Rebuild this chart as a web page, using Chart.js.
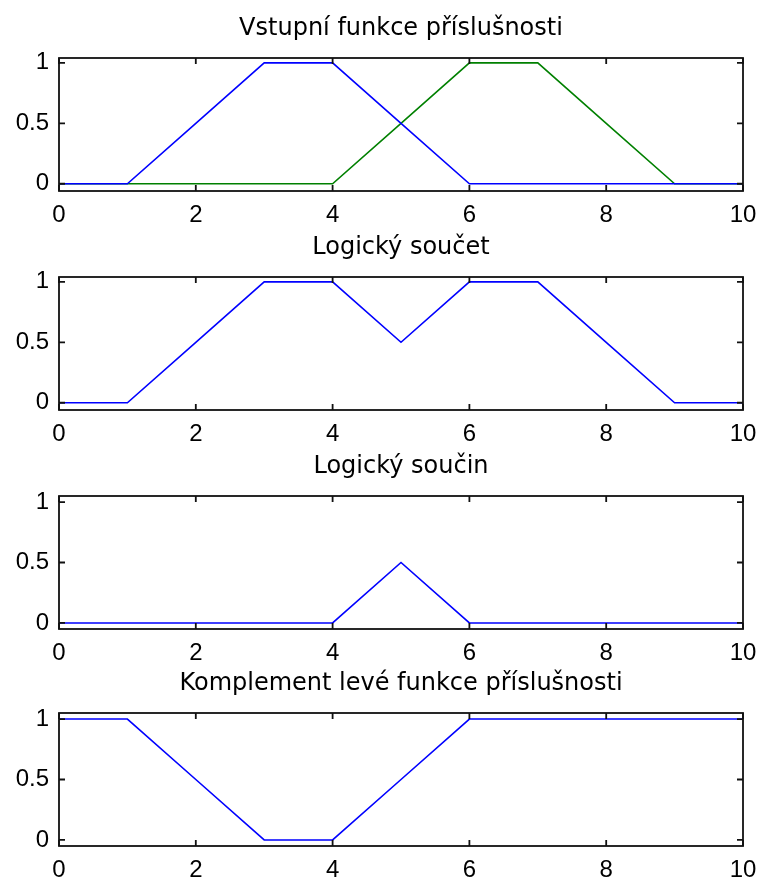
<!DOCTYPE html>
<html>
<head>
<meta charset="utf-8">
<title>Fuzzy operace</title>
<script src="https://cdn.jsdelivr.net/npm/chart.js@4/dist/chart.umd.min.js"></script>
<style>
  body { margin: 0; background: #fff; }
  #wrap { position: relative; width: 758px; height: 879px; }
  .plot { position: absolute; left: 0; width: 758px; }
</style>
</head>
<body>
<div id="wrap"></div>
<script>
'use strict'

// sample points shared by all membership functions
let xs = [0, 1, 2, 3, 4, 5, 6, 7, 8, 9, 10];
let leftMf = [0, 0, 0.5, 1, 1, 0.5, 0, 0, 0, 0, 0];
let rightMf = [0, 0, 0, 0, 0, 0.5, 1, 1, 0.5, 0, 0];
let orMf = [0, 0, 0.5, 1, 1, 0.5, 1, 1, 0.5, 0, 0];
let andMf = [0, 0, 0, 0, 0, 0.5, 0, 0, 0, 0, 0];
let notLeftMf = [1, 1, 0.5, 0, 0, 0.5, 1, 1, 1, 1, 1];

let xTicks = [0, 2, 4, 6, 8, 10];
let yTicks = [0, 0.5, 1];

let titles = ['Vstupní funkce příslušnosti', 'Logický součet', 'Logický součin', 'Komplement levé funkce příslušnosti'];
let plotSeries = [[leftMf, rightMf], [orMf], [andMf], [notLeftMf]];
let lineColors = ['#0000ff', '#008000'];

// axes layout
let plotTops = [58, 277, 496, 713];
let yMins = [-0.06, -0.06, -0.05, -0.05];
let yMaxs = [1.04, 1.04, 1.05, 1.05];
let titleH = 44;
let areaH = 133;
let xAxisH = 40;

function toPoints(ys) {
    return xs.map((x, i) => ({ x: x, y: ys[i] }));
}

// box around the axes with inward tick marks on all four sides
const boxPlugin = {
    id: 'boxTicks',
    afterDatasetsDraw(chart) {
        let ctx = chart.ctx;
        let a = chart.chartArea;
        let sx = chart.scales.x;
        let sy = chart.scales.y;
        let len = 6;
        ctx.save();
        ctx.strokeStyle = '#111';
        ctx.lineWidth = 1.8;
        ctx.strokeRect(a.left, a.top, a.right - a.left, a.bottom - a.top);
        ctx.beginPath();
        sx.ticks.forEach(t => {
            let px = sx.getPixelForValue(t.value);
            ctx.moveTo(px, a.bottom); ctx.lineTo(px, a.bottom - len);
            ctx.moveTo(px, a.top); ctx.lineTo(px, a.top + len);
        });
        sy.ticks.forEach(t => {
            let py = sy.getPixelForValue(t.value);
            ctx.moveTo(a.left, py); ctx.lineTo(a.left + len, py);
            ctx.moveTo(a.right, py); ctx.lineTo(a.right - len, py);
        });
        ctx.stroke();
        ctx.restore();
    }
};

// fixed axis sizes, no extra room reserved for overhanging labels
function fixX(s) {
    s.height = xAxisH;
    s.paddingLeft = 0;
    s.paddingRight = 0;
}
function fixY(s) {
    s.width = 59;
    s.paddingTop = 0;
    s.paddingBottom = 0;
}

let wrap = document.getElementById('wrap');

for (let i = 0; i < titles.length; i++) {
    let div = document.createElement('div');
    div.className = 'plot';
    div.style.top = (plotTops[i] - titleH) + 'px';
    div.style.height = (titleH + areaH + xAxisH) + 'px';
    let canvas = document.createElement('canvas');
    div.appendChild(canvas);
    wrap.appendChild(div);

    new Chart(canvas.getContext('2d'), {
        type: 'line',
        data: {
            datasets: plotSeries[i].map((ys, k) => ({
                data: toPoints(ys),
                borderColor: lineColors[k],
                borderWidth: 1.6,
                pointRadius: 0,
                tension: 0,
                fill: false
            }))
        },
        options: {
            responsive: true,
            maintainAspectRatio: false,
            animation: false,
            events: [],
            layout: { padding: { left: 0, right: 15, top: 0, bottom: 0 } },
            plugins: {
                legend: { display: false },
                tooltip: { enabled: false },
                title: {
                    display: true,
                    fullSize: false,
                    text: titles[i],
                    color: '#000',
                    font: { family: 'DejaVu Sans', size: 24, weight: 'normal', lineHeight: 1.2 },
                    padding: { top: 0, bottom: 15.2 }
                }
            },
            scales: {
                x: {
                    type: 'linear',
                    min: 0,
                    max: 10,
                    afterBuildTicks: s => { s.ticks = xTicks.map(v => ({ value: v })); },
                    afterFit: fixX,
                    grid: { display: true, drawOnChartArea: false, drawTicks: false },
                    border: { display: false },
                    ticks: {
                        color: '#000',
                        padding: 10,
                        maxRotation: 0,
                        font: { family: 'Liberation Sans', size: 24 }
                    }
                },
                y: {
                    type: 'linear',
                    min: yMins[i],
                    max: yMaxs[i],
                    afterBuildTicks: s => { s.ticks = yTicks.map(v => ({ value: v })); },
                    afterFit: fixY,
                    grid: { display: true, drawOnChartArea: false, drawTicks: false },
                    border: { display: false },
                    ticks: {
                        color: '#000',
                        padding: 10,
                        font: { family: 'Liberation Sans', size: 24 },
                        callback: v => String(v)
                    }
                }
            }
        },
        plugins: [boxPlugin]
    });
}
</script>
</body>
</html>
